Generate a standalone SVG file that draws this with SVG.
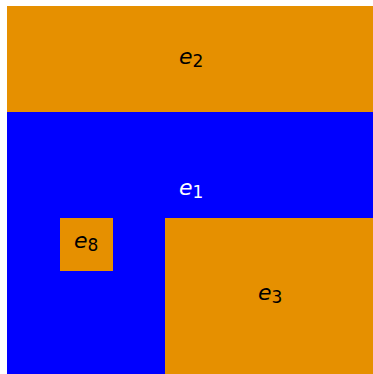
<svg xmlns="http://www.w3.org/2000/svg" width="373" height="374" viewBox="0 0 373 374">
<style>
.o{fill:#E69000}
.b{fill:#0000FF}
text{font-family:"DejaVu Sans",sans-serif;font-size:22px}
.e{font-style:oblique}
.s{font-size:17px}
</style>
<rect width="373" height="374" fill="#ffffff"/>
<g id="e1"><rect class="b" x="7" y="112" width="366" height="262"/><text x="179" y="195" fill="#ffffff"><tspan class="e">e</tspan><tspan class="s" dy="3">1</tspan></text></g>
<g id="e2"><rect class="o" x="7" y="6" width="366" height="106"/><text x="179" y="64" fill="#000000"><tspan class="e">e</tspan><tspan class="s" dy="3">2</tspan></text></g>
<g id="e3"><rect class="o" x="165" y="218" width="208" height="156"/><text x="258" y="300" fill="#000000"><tspan class="e">e</tspan><tspan class="s" dy="3">3</tspan></text></g>
<g id="e8"><rect class="o" x="60" y="218" width="53" height="53"/><text x="74" y="248" fill="#000000"><tspan class="e">e</tspan><tspan class="s" dy="3">8</tspan></text></g>
<g id="connectors"></g>
</svg>
